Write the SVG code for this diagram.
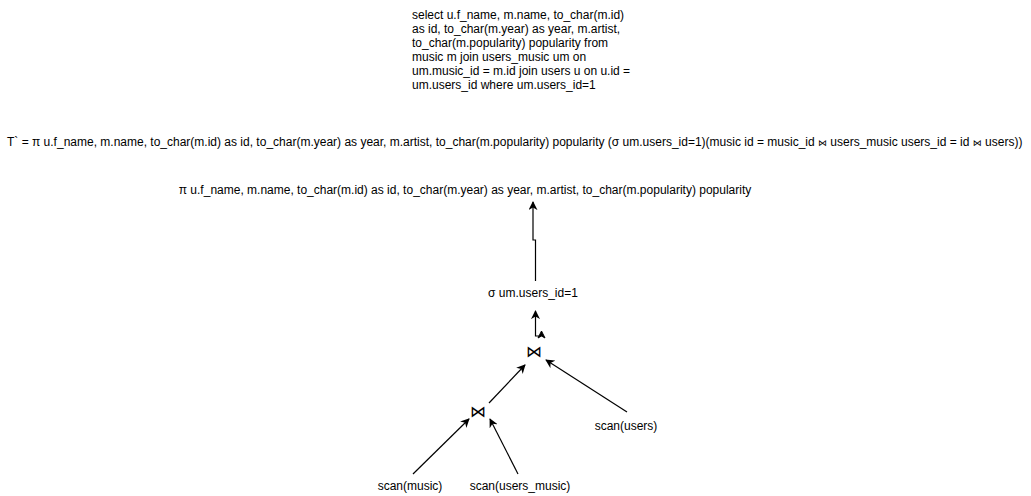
<svg xmlns="http://www.w3.org/2000/svg" width="1031" height="496" viewBox="0 0 1031 496">
<style>
text{font-family:"Liberation Sans",Arial,"DejaVu Sans",sans-serif;font-size:12px;fill:#000}
.c{text-anchor:middle}
.j{font-family:"DejaVu Sans",sans-serif;font-size:16px}
.sj{font-family:"DejaVu Sans",sans-serif;font-size:9px}
.e{fill:none;stroke:#000;stroke-width:1.2}
</style>
<defs>
<marker id="a" viewBox="0 0 10 10" refX="9" refY="5" markerWidth="9" markerHeight="9" markerUnits="userSpaceOnUse" orient="auto">
<path d="M0,0 L10,5 L0,10 L3,5 Z" fill="#000"/>
</marker>
</defs>
<rect width="1031" height="496" fill="#fff"/>
<g id="sql">
<text x="412" y="19">select u.f_name, m.name, to_char(m.id)</text>
<text x="412" y="33">as id, to_char(m.year) as year, m.artist,</text>
<text x="412" y="47">to_char(m.popularity) popularity from</text>
<text x="412" y="61">music m join users_music um on</text>
<text x="412" y="75">um.music_id = m.id join users u on u.id =</text>
<text x="412" y="89">um.users_id where um.users_id=1</text>
</g>
<g id="formula">
<text x="7" y="146">T` = π u.f_name, m.name, to_char(m.id) as id, to_char(m.year) as year, m.artist, to_char(m.popularity) popularity (σ um.users_id=1)(music id = music_id <tspan class="sj">⋈</tspan> users_music users_id = id <tspan class="sj">⋈</tspan> users))</text>
</g>
<g id="projection">
<text class="c" x="465" y="194">π u.f_name, m.name, to_char(m.id) as id, to_char(m.year) as year, m.artist, to_char(m.popularity) popularity</text>
</g>
<g id="selection">
<text class="c" x="533" y="297">σ um.users_id=1</text>
</g>
<g id="join1">
<text class="c j" x="534" y="357">⋈</text>
</g>
<g id="join2">
<text class="c j" x="478" y="417">⋈</text>
</g>
<g id="scan_users">
<text class="c" x="626" y="430">scan(users)</text>
</g>
<g id="scan_music">
<text class="c" x="410" y="490">scan(music)</text>
</g>
<g id="scan_users_music">
<text class="c" x="520" y="490">scan(users_music)</text>
</g>
<g id="connectors">
<path class="e" d="M535.5,281 L535.5,240 L533,240 L533,202" marker-end="url(#a)"/>
<path class="e" d="M541.5,336 L535.5,336 L535.5,311" marker-end="url(#a)"/>
<path d="M541.5,331 L545,338 L541.5,336 L538,338 Z" fill="#000" stroke="#000" stroke-width="1"/>
<path class="e" d="M627,412 L546,360" marker-end="url(#a)"/>
<path class="e" d="M489,403 L525,365" marker-end="url(#a)"/>
<path class="e" d="M413,474 L469,419" marker-end="url(#a)"/>
<path class="e" d="M518,474 L490,419" marker-end="url(#a)"/>
</g>
</svg>
